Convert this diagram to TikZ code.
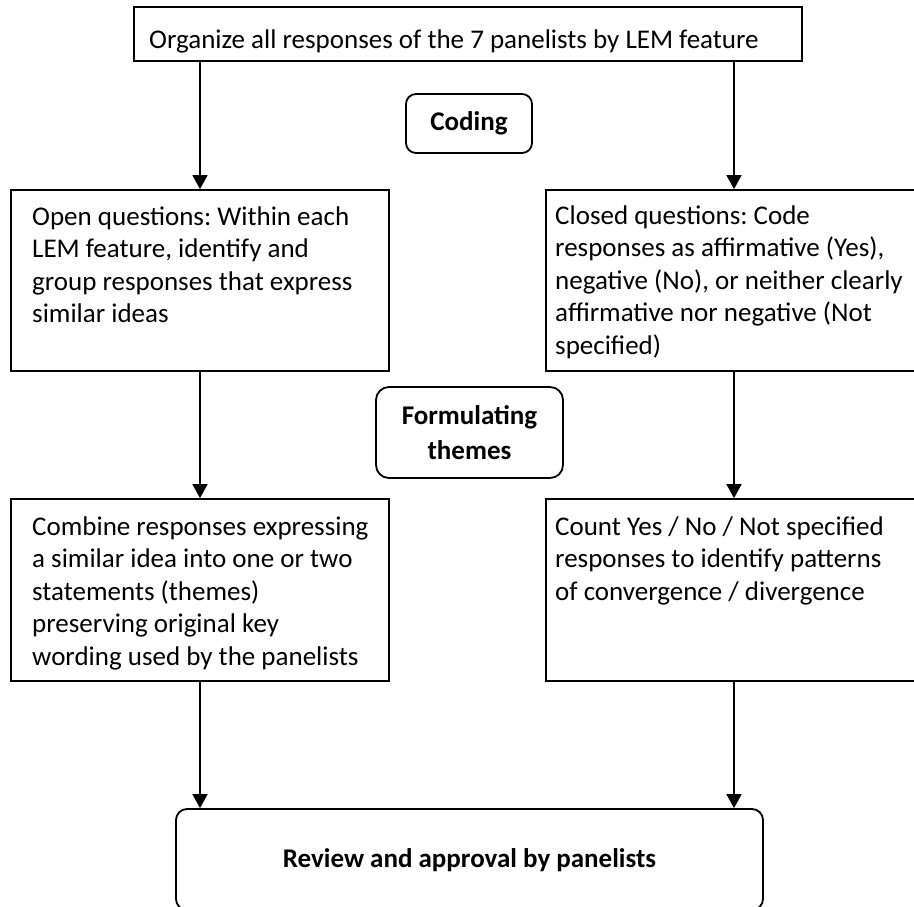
\documentclass[tikz,border=0pt]{standalone}
\usepackage{fontspec}
\setmainfont{Carlito}
\usetikzlibrary{arrows.meta}
\tikzset{
  plainbox/.style={draw, line width=1.8pt, inner sep=0pt, minimum width=#1},
  roundbox/.style={draw, line width=1.8pt, inner sep=0pt, rounded corners=#1},
  boxtext/.style={anchor=base west, inner sep=0pt},
  flow/.style={line width=1.7pt, -{Triangle[length=14pt,width=15pt]}}
}
\newcommand{\bodyfont}{\fontsize{27}{32.5}\selectfont\frenchspacing}
\begin{document}
\begin{tikzpicture}[x=1pt,y=-1pt]
\useasboundingbox (0,0) rectangle (914,906);
\clip (0,0) rectangle (914,906);
\coordinate (rx) at (734,0);
% top box
\node[plainbox=668pt, minimum height=54pt] (top) at (468,34) {};
\node[boxtext] (toptext) at (149,48.5) {\bodyfont Organize all responses of the 7 panelists by LEM feature};
% coding
\node[roundbox=10pt, minimum width=126pt, minimum height=59pt] (coding) at (469,123.5)
  {\bodyfont\bfseries Coding};
% upper boxes
\node[plainbox=378pt, minimum height=181pt] (lu) at (200,280.5) {};
\node[boxtext] (lutext) at (32,225) {\bodyfont\parbox[t]{350pt}{\raggedright
Open questions: Within each\\ LEM feature, identify and\\ group responses that express\\ similar ideas}};
\node[plainbox=394pt, minimum height=181pt] (ru) at (743,280.5) {};
\node[boxtext] (rutext) at (555,224) {\bodyfont\parbox[t]{355pt}{\raggedright
Closed questions: Code\\ responses as affirmative (Yes),\\ negative (No), or neither clearly\\ affirmative nor negative (Not\\ specified)}};
% formulating themes
\node[roundbox=13pt, minimum width=187pt, minimum height=91pt] (form) at (469.5,432.5)
  {\bodyfont\bfseries\parbox{180pt}{\centering\baselineskip=35pt Formulating\\ themes}};
% lower boxes
\node[plainbox=378pt, minimum height=182pt] (ll) at (200,590) {};
\node[boxtext] (lltext) at (32,535) {\bodyfont\parbox[t]{355pt}{\raggedright
Combine responses expressing\\ a similar idea into one or two\\ statements (themes)\\ preserving original key\\ wording used by the panelists}};
\node[plainbox=394pt, minimum height=182pt] (rl) at (743,590) {};
\node[boxtext] (rltext) at (555,535) {\bodyfont\parbox[t]{355pt}{\raggedright
Count Yes / No / Not specified\\ responses to identify patterns\\ of convergence / divergence}};
% bottom box
\node[roundbox=11pt, minimum width=587pt, minimum height=101pt] (bot) at (469.5,859.5) {};
\node[anchor=base, inner sep=0pt] (bottext) at (469.5,867) {\bodyfont\bfseries Review and approval by panelists};
% connectors
\draw[flow] (top.south -| lu.north) -- (lu.north);
\draw[flow] (top.south -| rx) -- (ru.north -| rx);
\draw[flow] (lu.south) -- (ll.north);
\draw[flow] (ru.south -| rx) -- (rl.north -| rx);
\draw[flow] (ll.south) -- (ll.south |- bot.north);
\draw[flow] (rl.south -| rx) -- (bot.north -| rx);
\end{tikzpicture}
\end{document}
